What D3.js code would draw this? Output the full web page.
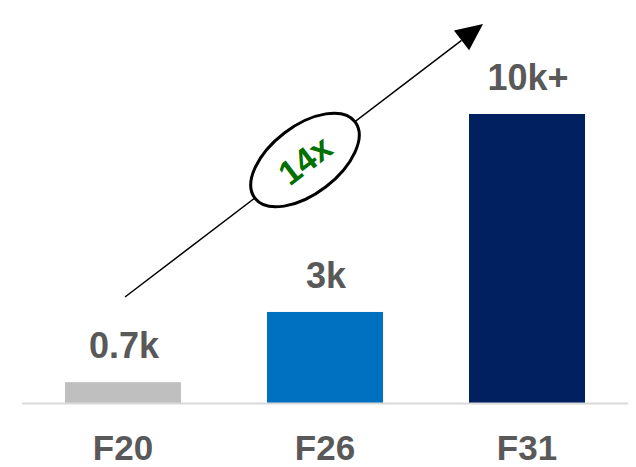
<!DOCTYPE html>
<html>
<head>
<meta charset="utf-8">
<script src="https://cdn.jsdelivr.net/npm/d3@7"></script>
<style>
  html, body { margin: 0; padding: 0; background: #fff; }
  svg { display: block; }
</style>
</head>
<body>
<svg id="chart" width="636" height="467"></svg>
<script>
const categories = ["F20", "F26", "F31"];
const values = [0.72, 3.15, 10];
const valueLabels = ["0.7k", "3k", "10k+"];
const barColors = ["#BFBFBF", "#0070C0", "#002060"];
const growthLabel = "14x";

const svg = d3.select("#chart");
const baseY = 403;

const x = d3.scaleBand()
  .domain(categories)
  .range([22, 628])
  .paddingInner(0.4257)
  .paddingOuter(0.4257 / 2);

const y = d3.scaleLinear().domain([0, 10]).range([baseY, 114]);

// bars
svg.append("g").selectAll("rect")
  .data(categories)
  .join("rect")
  .attr("x", d => x(d))
  .attr("y", (d, i) => y(values[i]))
  .attr("width", x.bandwidth())
  .attr("height", (d, i) => y(0) - y(values[i]))
  .attr("fill", (d, i) => barColors[i]);

// baseline
svg.append("line")
  .attr("x1", 22).attr("x2", 628)
  .attr("y1", baseY + 0.5).attr("y2", baseY + 0.5)
  .attr("stroke", "#D9D9D9").attr("stroke-width", 2);

// value labels
svg.append("g").selectAll("text")
  .data(categories)
  .join("text")
  .attr("x", d => x(d) + x.bandwidth() / 2 + 1)
  .attr("y", (d, i) => y(values[i]) - 24)
  .attr("text-anchor", "middle")
  .attr("font-family", "'Liberation Sans', Arial, sans-serif")
  .attr("font-weight", "bold")
  .attr("font-size", 36)
  .attr("fill", "#595959")
  .text((d, i) => valueLabels[i]);

// category axis labels
const xAxis = d3.axisBottom(x).tickSize(0).tickPadding(0);
const ax = svg.append("g").attr("transform", `translate(0,${baseY})`).call(xAxis);
ax.select(".domain").remove();
ax.selectAll("text")
  .attr("dy", null)
  .attr("y", 56.5)
  .attr("font-family", "'Liberation Sans', Arial, sans-serif")
  .attr("font-weight", "bold")
  .attr("font-size", 35)
  .attr("fill", "#595959");

// growth arrow
const ax0 = 125, ay0 = 297, ax1 = 483, ay1 = 24;
const ang = Math.atan2(ay1 - ay0, ax1 - ax0);
const headLen = 27, headHalf = 12.5;
const bx = ax1 - headLen * Math.cos(ang), by = ay1 - headLen * Math.sin(ang);
svg.append("line")
  .attr("x1", ax0).attr("y1", ay0)
  .attr("x2", bx).attr("y2", by)
  .attr("stroke", "#000").attr("stroke-width", 1.5);
svg.append("path")
  .attr("d", d3.line()([
    [ax1, ay1],
    [bx + headHalf * Math.sin(ang), by - headHalf * Math.cos(ang)],
    [bx - headHalf * Math.sin(ang), by + headHalf * Math.cos(ang)]
  ]) + "Z")
  .attr("fill", "#000");

// ellipse callout
const cx = 305, cy = 160;
const deg = ang * 180 / Math.PI;
const g = svg.append("g").attr("transform", `translate(${cx},${cy}) rotate(${deg})`);
g.append("ellipse")
  .attr("rx", 63).attr("ry", 34)
  .attr("fill", "#fff")
  .attr("stroke", "#000").attr("stroke-width", 3);
g.append("text")
  .attr("x", 0).attr("y", 12)
  .attr("text-anchor", "middle")
  .attr("font-family", "'Liberation Sans', Arial, sans-serif")
  .attr("font-weight", "bold")
  .attr("font-size", 34)
  .attr("fill", "#007000")
  .text(growthLabel);
</script>
</body>
</html>
